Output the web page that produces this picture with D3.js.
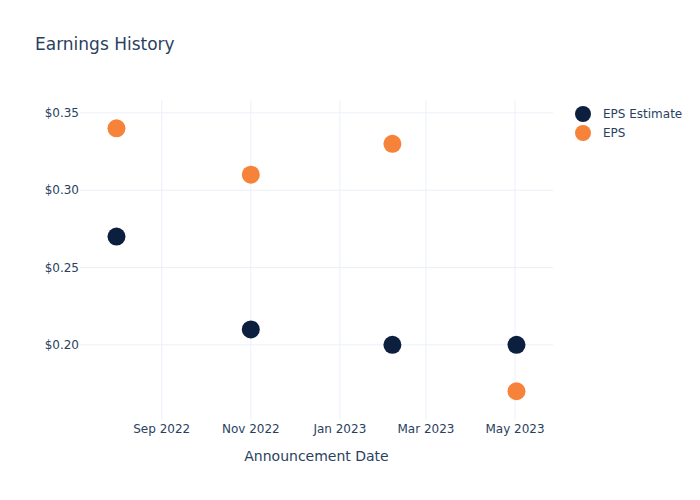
<!DOCTYPE html>
<html><head><meta charset="utf-8">
<script src="https://cdn.jsdelivr.net/npm/d3@7"></script>
<style>body{margin:0;background:#fff}text{font-family:"DejaVu Sans",Verdana,sans-serif}</style>
</head><body><div id="chart"></div>
<script>
const dates = ["2022-08-01","2022-11-01","2023-02-06","2023-05-02"];
const epsEstimate = [0.27, 0.21, 0.20, 0.20];
const eps = [0.34, 0.31, 0.33, 0.17];
const yTicks = [0.20, 0.25, 0.30, 0.35];
const xTicks = ["2022-09-01","2022-11-01","2023-01-01","2023-03-01","2023-05-01"];
const seriesNames = ["EPS Estimate", "EPS"];
const colors = ["#0d1f3f", "#f7823a"];

const W = 700, H = 500, m = {l:80, r:147, t:100, b:80};
const svg = d3.select("#chart").append("svg").attr("width", W).attr("height", H);
const parse = d3.timeParse("%Y-%m-%d");
const x = d3.scaleTime().domain([parse("2022-07-07"), parse("2023-05-27")]).range([m.l, W - m.r]);
const y = d3.scaleLinear().domain([0.1509, 0.3578]).range([H - m.b + 0.8, m.t + 0.8]);
const txt = "#2a3f5f", grid = "#ebf0f8";

const gx = svg.append("g");
xTicks.forEach(t => {
  const px = x(parse(t));
  gx.append("line").attr("x1", px).attr("x2", px).attr("y1", m.t).attr("y2", H - m.b).attr("stroke", grid);
  gx.append("text").attr("x", px).attr("y", 433).attr("text-anchor", "middle").attr("font-size", 12).attr("fill", txt)
    .text(d3.timeFormat("%b %Y")(parse(t)));
});
yTicks.forEach(t => {
  const py = y(t);
  svg.append("line").attr("x1", m.l).attr("x2", W - m.r).attr("y1", py).attr("y2", py).attr("stroke", grid);
  svg.append("text").attr("x", 79).attr("y", py + 4).attr("text-anchor", "end").attr("font-size", 12).attr("fill", txt)
    .text("$" + t.toFixed(2));
});

[epsEstimate, eps].forEach((vals, i) => {
  svg.append("g").selectAll("circle").data(vals).join("circle")
    .attr("cx", (d, j) => x(parse(dates[j]))).attr("cy", d => y(d)).attr("r", 9).attr("fill", colors[i]);
});

svg.append("text").attr("x", 35).attr("y", 50).attr("font-size", 17).attr("fill", txt).text("Earnings History");
svg.append("text").attr("x", (m.l + W - m.r) / 2).attr("y", 461).attr("text-anchor", "middle").attr("font-size", 14).attr("fill", txt).text("Announcement Date");

seriesNames.forEach((n, i) => {
  const ly = 114 + i * 19;
  svg.append("circle").attr("cx", 583).attr("cy", ly).attr("r", 8).attr("fill", colors[i]);
  svg.append("text").attr("x", 603).attr("y", ly + 4).attr("font-size", 12).attr("fill", txt).text(n);
});
</script></body></html>
